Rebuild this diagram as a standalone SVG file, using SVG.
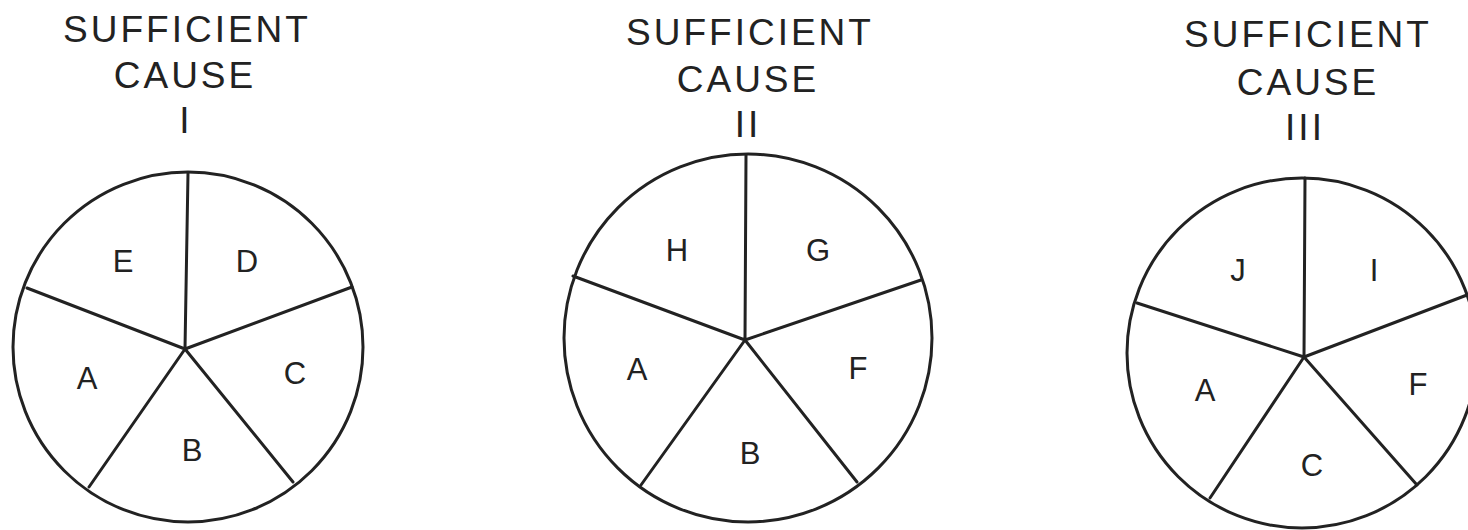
<svg xmlns="http://www.w3.org/2000/svg" width="1468" height="530" viewBox="0 0 1468 530">
<style>
.title{font-family:"Liberation Sans",Arial,sans-serif;font-size:37px;fill:#222;text-anchor:middle;letter-spacing:3px}
.lbl{font-family:"Liberation Sans",Arial,sans-serif;font-size:31px;fill:#222;text-anchor:middle}
.ring{fill:none;stroke:#222;stroke-width:3}
.spoke{fill:none;stroke:#222;stroke-width:3;stroke-linecap:round}
</style>
<rect width="1468" height="530" fill="#fff"/>
<g id="cause1">
<text class="title" x="187" y="42">SUFFICIENT</text>
<text class="title" x="185" y="88">CAUSE</text>
<text class="title" x="186" y="133">I</text>
<circle class="ring" cx="188" cy="347" r="175"/>
<g class="spokes">
<path class="spoke" d="M185 349 L188 173 M185 349 L352 287 M185 349 L293 482 M185 349 L89 487 M185 349 L27 288"/>
</g>
<text class="lbl" x="123" y="272">E</text>
<text class="lbl" x="247" y="272">D</text>
<text class="lbl" x="87" y="389">A</text>
<text class="lbl" x="295" y="384">C</text>
<text class="lbl" x="192" y="461">B</text>
</g>
<g id="cause2">
<text class="title" x="750" y="45">SUFFICIENT</text>
<text class="title" x="748" y="92">CAUSE</text>
<text class="title" x="748" y="137">II</text>
<circle class="ring" cx="748" cy="338" r="184"/>
<path class="spoke" d="M745 340 L746 155 M745 340 L921 280 M745 340 L857 482 M745 340 L641 485 M745 340 L573 276"/>
<text class="lbl" x="677" y="261">H</text>
<text class="lbl" x="818" y="261">G</text>
<text class="lbl" x="637" y="380">A</text>
<text class="lbl" x="858" y="379">F</text>
<text class="lbl" x="750" y="464">B</text>
</g>
<g id="cause3">
<text class="title" x="1308" y="47">SUFFICIENT</text>
<text class="title" x="1308" y="95">CAUSE</text>
<text class="title" x="1305" y="140">III</text>
<circle class="ring" cx="1302" cy="353" r="175"/>
<path class="spoke" d="M1304 357 L1305 178 M1304 357 L1467 295 M1304 357 L1417 485 M1304 357 L1210 498 M1304 357 L1137 303"/>
<text class="lbl" x="1238" y="281">J</text>
<text class="lbl" x="1374" y="281">I</text>
<text class="lbl" x="1205" y="401">A</text>
<text class="lbl" x="1418" y="395">F</text>
<text class="lbl" x="1312" y="476">C</text>
</g>
</svg>
